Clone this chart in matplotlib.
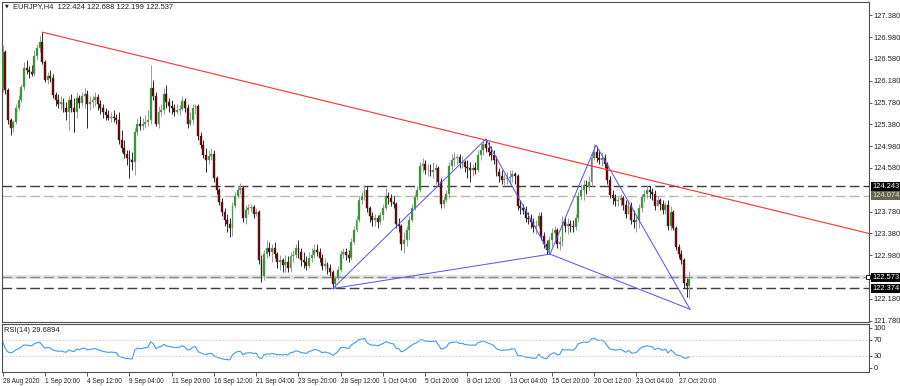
import numpy as np
import matplotlib.pyplot as plt
from matplotlib import transforms

# EURJPY H4 candles, open of a bar = close of the one before
first_open = 126.05
close = [126.71, 126.01, 125.46, 125.31, 125.42, 125.68, 125.83, 126.07, 126.41, 126.38, 126.34, 126.30, 126.63, 126.78, 126.89, 126.52,
         126.19, 126.27, 126.23, 125.92, 125.83, 125.75, 125.79, 125.68, 125.61, 125.83, 125.68, 125.61, 125.86, 125.77, 125.90, 125.94,
         125.75, 125.79, 125.83, 125.88, 125.75, 125.68, 125.61, 125.55, 125.50, 125.52, 125.50, 125.46, 125.09, 124.95, 124.84, 124.76,
         124.73, 124.69, 125.24, 125.39, 125.35, 125.39, 125.42, 125.46, 126.05, 125.90, 125.39, 125.61, 125.64, 125.94, 125.79, 125.72,
         125.68, 125.61, 125.64, 125.66, 125.81, 125.68, 125.39, 125.46, 125.68, 125.72, 125.17, 125.00, 124.82, 124.73, 124.80, 124.84,
         124.40, 124.18, 123.96, 123.77, 123.63, 123.55, 123.48, 123.88, 124.07, 124.18, 124.21, 123.66, 123.81, 123.85, 123.86, 123.74,
         123.77, 122.89, 122.60, 123.00, 123.11, 123.04, 123.11, 123.00, 122.86, 122.89, 122.80, 122.86, 122.75, 122.97, 122.98, 123.11,
         123.04, 122.89, 122.86, 122.78, 122.93, 122.98, 123.08, 123.04, 122.93, 122.78, 122.82, 122.75, 122.67, 122.45, 122.56, 122.71,
         123.00, 123.04, 122.98, 122.93, 123.22, 123.44, 123.63, 123.99, 124.07, 124.18, 123.85, 123.70, 123.63, 123.66, 123.59, 123.72,
         123.85, 124.07, 124.03, 123.96, 123.92, 123.55, 123.52, 123.19, 123.26, 123.44, 123.63, 123.85, 124.05, 124.18, 124.62, 124.65,
         124.54, 124.54, 124.51, 124.54, 124.58, 124.32, 123.92, 123.99, 124.10, 124.62, 124.73, 124.76, 124.78, 124.67, 124.69, 124.60,
         124.58, 124.54, 124.58, 124.54, 124.82, 124.91, 125.02, 124.95, 124.87, 124.82, 124.73, 124.51, 124.43, 124.36, 124.38, 124.40,
         124.41, 124.47, 124.43, 123.88, 123.85, 123.81, 123.66, 123.65, 123.59, 123.50, 123.52, 123.70, 123.33, 123.19, 123.08, 123.26,
         123.39, 123.44, 123.19, 123.22, 123.59, 123.52, 123.55, 123.52, 123.50, 123.66, 124.07, 124.18, 124.27, 124.25, 124.32, 124.76,
         124.87, 124.76, 124.73, 124.76, 124.65, 124.36, 124.08, 124.03, 123.97, 123.99, 124.03, 123.90, 123.74, 123.88, 123.63, 123.59,
         123.63, 123.85, 124.05, 124.10, 124.18, 124.14, 124.10, 123.88, 123.99, 123.92, 123.81, 123.90, 123.52, 123.77, 123.48, 123.13,
         123.00, 122.89, 122.47, 122.424, 122.537]
high = [126.84, 126.74, 126.05, 125.50, 125.46, 125.75, 125.92, 126.12, 126.52, 126.56, 126.45, 126.47, 126.74, 126.85, 127.00, 127.07,
        126.56, 126.34, 126.38, 126.30, 125.97, 125.94, 125.90, 125.86, 125.79, 125.90, 125.94, 125.86, 125.97, 125.92, 125.97, 126.05,
        126.01, 125.90, 125.90, 125.97, 125.94, 125.83, 125.75, 125.68, 125.64, 125.61, 125.64, 125.57, 125.61, 125.28, 125.09, 124.91,
        124.91, 124.87, 125.31, 125.50, 125.53, 125.50, 125.55, 125.64, 126.47, 126.19, 125.97, 125.72, 125.75, 126.05, 126.10, 125.86,
        125.83, 125.75, 125.75, 125.73, 125.90, 125.86, 125.75, 125.61, 125.75, 125.75, 125.75, 125.24, 125.09, 124.95, 124.91, 124.95,
        124.91, 124.43, 124.21, 124.03, 123.85, 123.74, 123.66, 123.96, 124.14, 124.25, 124.30, 124.25, 123.90, 123.92, 123.92, 123.90,
        123.85, 123.81, 122.98, 123.08, 123.26, 123.22, 123.19, 123.22, 123.04, 122.98, 122.93, 122.98, 122.97, 123.04, 123.08, 123.19,
        123.26, 123.11, 123.04, 122.97, 123.04, 123.11, 123.19, 123.19, 123.11, 123.00, 122.93, 122.86, 122.82, 122.71, 122.60, 122.78,
        123.08, 123.11, 123.11, 123.08, 123.30, 123.52, 123.70, 124.07, 124.14, 124.27, 124.25, 123.88, 123.77, 123.74, 123.72, 123.77,
        123.92, 124.21, 124.14, 124.10, 124.07, 123.96, 123.66, 123.55, 123.41, 123.52, 123.70, 123.92, 124.10, 124.25, 124.69, 124.76,
        124.73, 124.65, 124.65, 124.69, 124.65, 124.62, 124.40, 124.07, 124.18, 124.69, 124.84, 124.87, 124.84, 124.84, 124.80, 124.73,
        124.73, 124.69, 124.65, 124.69, 124.91, 125.02, 125.09, 125.12, 125.06, 124.98, 124.91, 124.80, 124.58, 124.54, 124.47, 124.51,
        124.54, 124.54, 124.51, 124.47, 123.99, 123.92, 123.88, 123.77, 123.74, 123.66, 123.63, 123.77, 123.77, 123.41, 123.26, 123.33,
        123.48, 123.52, 123.48, 123.33, 123.70, 123.66, 123.66, 123.63, 123.63, 123.74, 124.14, 124.29, 124.36, 124.36, 124.43, 124.84,
        125.02, 124.98, 124.91, 124.87, 124.84, 124.69, 124.43, 124.18, 124.10, 124.07, 124.10, 124.07, 123.99, 123.99, 123.96, 123.81,
        123.74, 123.92, 124.10, 124.18, 124.27, 124.25, 124.21, 124.18, 124.07, 124.03, 123.99, 123.96, 123.99, 123.88, 123.81, 123.52,
        123.19, 123.08, 122.93, 122.56, 122.688]
low = [125.97, 125.94, 125.39, 125.18, 125.24, 125.39, 125.64, 125.79, 126.01, 126.30, 126.23, 126.27, 126.27, 126.56, 126.71, 126.49,
       126.16, 126.12, 126.16, 125.86, 125.72, 125.68, 125.64, 125.61, 125.46, 125.28, 125.61, 125.24, 125.50, 125.68, 125.72, 125.68,
       125.31, 125.64, 125.68, 125.72, 125.64, 125.57, 125.50, 125.46, 125.46, 125.42, 125.42, 125.39, 125.02, 124.87, 124.76, 124.63,
       124.40, 124.54, 124.45, 125.18, 125.28, 125.28, 125.31, 125.35, 125.39, 125.83, 125.35, 125.31, 125.53, 125.57, 125.68, 125.61,
       125.57, 125.53, 125.57, 125.55, 125.64, 125.61, 125.31, 125.35, 125.39, 125.57, 125.09, 124.95, 124.76, 124.51, 124.65, 124.73,
       124.32, 124.10, 123.90, 123.70, 123.52, 123.41, 123.32, 123.33, 123.85, 124.03, 124.10, 123.59, 123.55, 123.74, 123.77, 123.66,
       123.70, 122.82, 122.49, 122.53, 122.93, 122.97, 122.86, 122.93, 122.75, 122.71, 122.67, 122.67, 122.67, 122.67, 122.86, 122.93,
       122.93, 122.78, 122.75, 122.71, 122.75, 122.86, 122.93, 122.97, 122.86, 122.71, 122.71, 122.64, 122.60, 122.37, 122.38, 122.53,
       122.67, 122.93, 122.89, 122.86, 122.89, 123.19, 123.41, 123.59, 123.92, 123.99, 123.77, 123.59, 123.52, 123.52, 123.48, 123.55,
       123.63, 123.81, 123.92, 123.88, 123.85, 123.48, 123.41, 123.08, 123.02, 123.15, 123.26, 123.59, 123.81, 123.99, 124.14, 124.51,
       124.47, 124.43, 124.43, 124.40, 124.29, 124.25, 123.85, 123.85, 123.96, 124.03, 124.54, 124.62, 124.65, 124.58, 124.58, 124.51,
       124.40, 124.32, 124.43, 124.47, 124.51, 124.73, 124.82, 124.87, 124.80, 124.73, 124.65, 124.43, 124.32, 124.29, 124.25, 124.29,
       124.29, 124.32, 124.29, 123.81, 123.74, 123.74, 123.59, 123.55, 123.48, 123.41, 123.37, 123.48, 123.26, 123.11, 123.00, 123.00,
       123.15, 123.26, 123.11, 123.08, 123.15, 123.41, 123.37, 123.41, 123.41, 123.44, 123.59, 123.99, 123.99, 124.10, 124.18, 124.25,
       124.73, 124.69, 124.65, 124.62, 124.58, 124.29, 124.03, 123.92, 123.88, 123.88, 123.88, 123.81, 123.66, 123.74, 123.55, 123.48,
       123.41, 123.48, 123.77, 123.96, 124.03, 124.03, 123.99, 123.81, 123.88, 123.81, 123.74, 123.74, 123.44, 123.44, 123.44, 123.08,
       122.93, 122.82, 122.38, 122.21, 122.199]

time_labels = ["28 Aug 2020", "1 Sep 20:00", "4 Sep 12:00", "9 Sep 04:00", "11 Sep 20:00", "16 Sep 12:00",
               "21 Sep 04:00", "23 Sep 20:00", "28 Sep 12:00", "1 Oct 04:00", "5 Oct 20:00", "8 Oct 12:00",
               "13 Oct 04:00", "15 Oct 20:00", "20 Oct 12:00", "23 Oct 04:00", "27 Oct 20:00"]
label_every = 16

price_ticks = [127.38, 126.98, 126.58, 126.18, 125.78, 125.38, 124.98, 124.58, 123.78, 123.38, 122.98, 122.18, 121.78]
levels = [124.243, 124.074, 122.573, 122.374]
level_colors = ['#3c3c3c', '#b9b9ad', '#8a8a8a', '#3c3c3c']
level_box = ['black', '#66664f', 'black', 'black']

trend_bars = [15, 328]
trend_prices = [127.07, 123.38]

# X A B C D of the harmonic pattern
pat_bars = [125, 183, 207.3, 224.7, 260.3]
pat_prices = [122.37, 125.11, 123.00, 125.00, 121.99]

rsi_seed = 0.06   # neutral starting average gain/loss

close = np.array(close)
high = np.array(high)
low = np.array(low)
opn = np.r_[first_open, close[:-1]]
n = len(close)
x = np.arange(n)

# RSI(14), Wilder smoothing
diff = close - opn
ag, al = rsi_seed, rsi_seed
rsi = []
for d in diff:
    ag = (ag * 13 + max(d, 0)) / 14
    al = (al * 13 + max(-d, 0)) / 14
    rsi.append(100 - 100 / (1 + ag / al))

W, H = 900, 386
fig = plt.figure(figsize=(9, 3.86), dpi=100)
ax = fig.add_axes([1.7 / W, 1 - 322 / H, 867.3 / W, 320 / H])
ax2 = fig.add_axes([1.7 / W, 1 - 372 / H, 867.3 / W, 48 / H])
font = ['Liberation Sans', 'DejaVu Sans']
fs = 5.4

bull = close >= opn
wick = np.where(bull, '#9a9a9a', '#2a2a2a')
body = np.where(bull, '#1a9a1a', '#7a0000')
ax.vlines(x, low, high, colors=wick, lw=0.7, zorder=3)
ax.bar(x, np.maximum(np.abs(close - opn), 0.008), bottom=np.minimum(opn, close), width=0.72,
       color=body, edgecolor=wick, lw=0.3, zorder=4)

for lv, c in zip(levels, level_colors):
    if lv == 122.573:
        ax.axhline(lv, color='#e4e4e4', lw=3.0, zorder=1)
    ax.axhline(lv, color=c, lw=1.0, dashes=(7, 3), zorder=2)

ax.plot(trend_bars, trend_prices, color='#ff3030', lw=0.8, zorder=5)
ax.plot(pat_bars, pat_prices, color='#5050ff', lw=0.7, zorder=5)
ax.plot([pat_bars[0], pat_bars[2], pat_bars[4]], [pat_prices[0], pat_prices[2], pat_prices[4]],
        color='#5050ff', lw=0.7, zorder=5)

ax.set_xlim(-0.4, 328.1)
ax.set_ylim(121.756, 127.623)
ax.set_xticks([])
ax.yaxis.tick_right()
ax.set_yticks(price_ticks)
ax.set_yticklabels(['%.3f' % p for p in price_ticks], family=font, fontsize=fs, color='#202020')
ax.tick_params(axis='y', direction='out', length=2, pad=1.5, width=0.6, color='#404040')

tr = transforms.blended_transform_factory(ax.transAxes, ax.transData)
for lv, c in zip(levels, level_box):
    tc = '#e0e0d0' if c != 'black' else 'white'
    ax.text(1.004, lv, '%.3f' % lv, transform=tr, ha='left', va='center', family=font, fontsize=fs,
            color=tc, bbox=dict(boxstyle='square,pad=0.15', fc=c, ec='none'), clip_on=False, zorder=6)
ax.plot([327.6], [122.573], marker='s', ms=2.5, mfc='white', mec='black', mew=0.6, zorder=6, clip_on=False)

ax.text(0.004, 0.987, '\u25BC', transform=ax.transAxes, fontsize=3.5, va='center', ha='left', color='#202020')
ax.text(0.013, 0.987, 'EURJPY,H4  122.424 122.688 122.199 122.537', transform=ax.transAxes,
        family=font, fontsize=fs, va='center', ha='left', color='#202020')

ax2.plot(x, rsi, color='#3d9cf5', lw=0.8)
for lv in [70, 30]:
    ax2.axhline(lv, color='#c8c8c8', lw=0.6, ls=(0, (2, 2)))
ax2.set_xlim(-0.4, 328.1)
ax2.set_ylim(-10, 110)
ax2.yaxis.tick_right()
ax2.set_yticks([100, 70, 30, 0])
ax2.set_yticklabels(['100', '70', '30', '0'], family=font, fontsize=fs, color='#202020')
ax2.tick_params(axis='y', direction='out', length=2, pad=1.5, width=0.6, color='#404040')
ticks = np.arange(len(time_labels)) * label_every
ax2.set_xticks(ticks)
ax2.set_xticklabels(time_labels, family=font, fontsize=4.7, color='#202020', ha='left')
ax2.tick_params(axis='x', direction='out', length=3, pad=1.5, width=0.6, color='#404040')
ax2.text(0.003, 0.875, 'RSI(14) 29.6894', transform=ax2.transAxes, family=font, fontsize=fs,
         va='center', ha='left', color='#202020')

for a in (ax, ax2):
    for s in a.spines.values():
        s.set_color('#505050')
        s.set_linewidth(0.8)

fig.savefig('out.png', dpi=100)
